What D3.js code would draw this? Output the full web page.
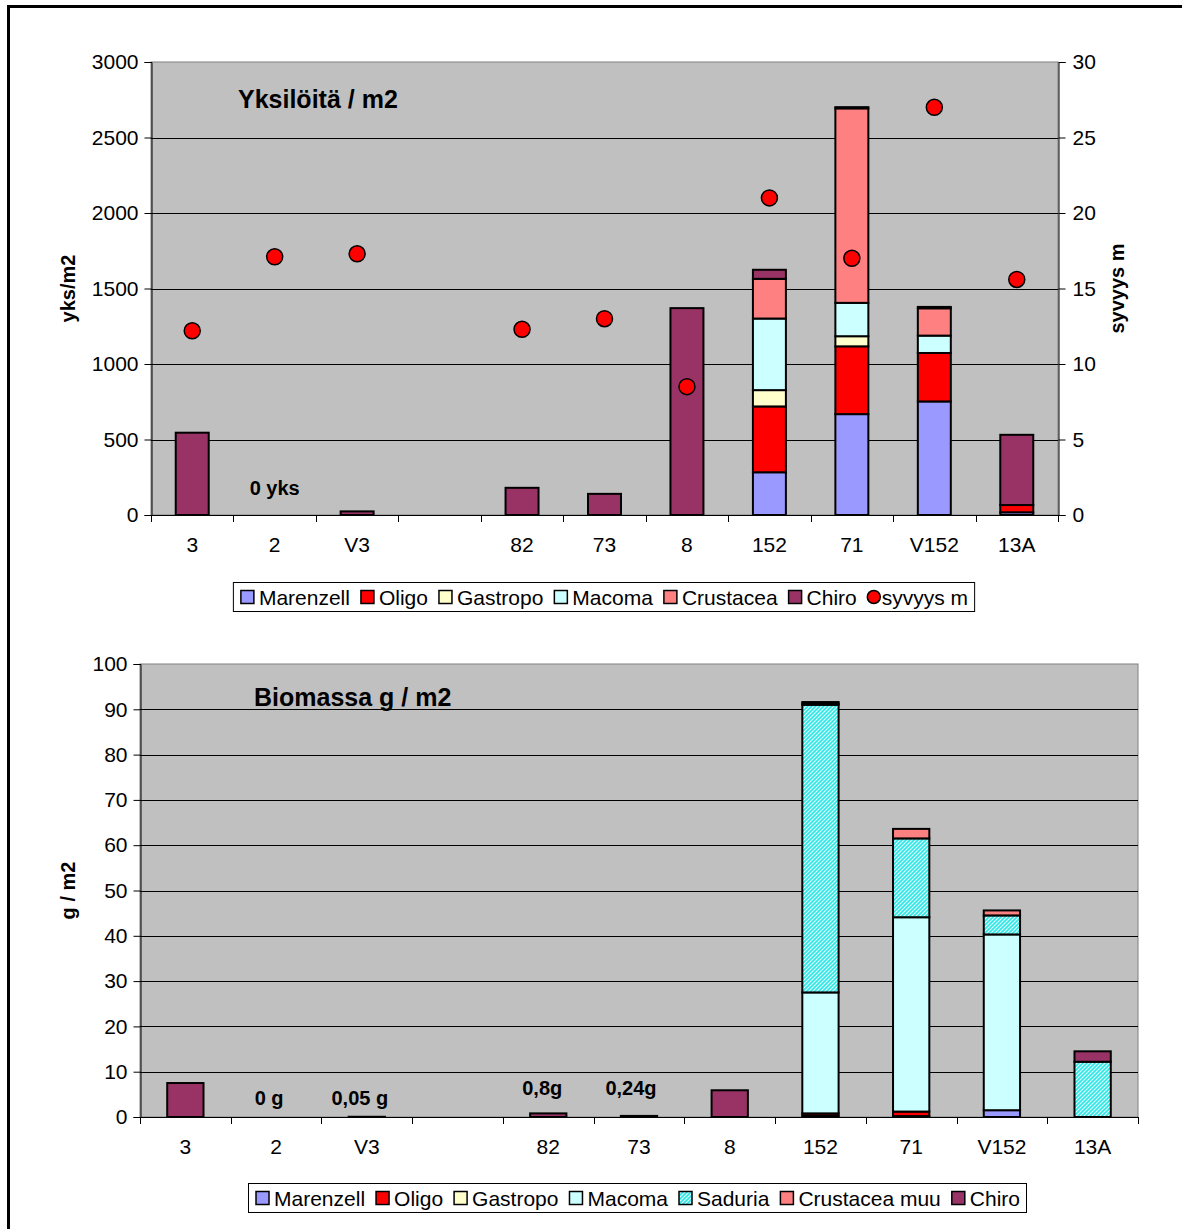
<!DOCTYPE html>
<html><head><meta charset="utf-8">
<script src="https://cdn.jsdelivr.net/npm/d3@7"></script>
<style>
body{margin:0;background:#fff;}
svg{display:block;font-family:"Liberation Sans",Arial,sans-serif;}
</style></head>
<body><svg id="c" width="1182" height="1229"></svg>
<script>
// ---- data ----
const categories = ["3","2","V3","","82","73","8","152","71","V152","13A"];

// top chart: individuals / m2
const marenzell = [0,0,0,0,0,0,0,283,668,752,18];
const oligo     = [0,0,0,0,0,0,0,436,449,321,48];
const gastropo  = [0,0,0,0,0,0,0,108,67,0,0];
const macoma    = [0,0,0,0,0,0,0,474,221,115,0];
const crustacea = [0,0,0,0,0,0,0,263,1288,181,0];
const chiro     = [545,0,24,0,180,140,1370,60,8,9,465];
const depth     = [12.2,17.1,17.3,null,12.3,13.0,8.5,21.0,17.0,27.0,15.6];
const topTicksLeft  = [0,500,1000,1500,2000,2500,3000];
const topTicksRight = [0,5,10,15,20,25,30];

// bottom chart: biomass g / m2
const bMarenzell = [0,0,0,0,0,0,0,0.3,0.2,1.5,0];
const bOligo     = [0,0,0,0,0,0,0,0.5,1.0,0,0];
const bGastropo  = [0,0,0,0,0,0,0,0,0,0,0];
const bMacoma    = [0,0,0,0,0,0,0,26.7,42.9,38.8,0];
const bSaduria   = [0,0,0,0,0,0,0,63.5,17.4,4.2,12.2];
const bCrustMuu  = [0,0,0,0,0,0,0,0.3,2.1,1.1,0];
const bChiro     = [7.5,0,0.05,0,0.8,0.24,5.9,0.3,0,0,2.3];
const bottomTicks = [0,10,20,30,40,50,60,70,80,90,100];

const topNotes = [{cat:1, text:"0 yks", dx:0, dy:-8}];
const bottomNotes = [{cat:1,text:"0 g",dx:-7,dy:0},{cat:2,text:"0,05 g",dx:-7,dy:0},{cat:4,text:"0,8g",dx:-6,dy:-10},{cat:5,text:"0,24g",dx:-8,dy:-10}];

// ---- drawing ----
const svg = d3.select("#c");
const defs = svg.append("defs");
const pat = defs.append("pattern").attr("id","sad").attr("patternUnits","userSpaceOnUse")
  .attr("width",4).attr("height",4);
pat.append("rect").attr("width",4).attr("height",4).attr("fill","#2EE6E6");
pat.append("path").attr("d","M-1,1 l2,-2 M0,4 l4,-4 M3,5 l2,-2").attr("stroke","#E8FFFF").attr("stroke-width",1.1);

const COL = {Marenzell:"#9999FF",Oligo:"#FF0000",Gastropo:"#FFFFCC",Macoma:"#CCFFFF",
  Crustacea:"#FF8080",Chiro:"#993366",Saduria:"url(#sad)"};

svg.append("rect").attr("x",8.5).attr("y",6.5).attr("width",1200).attr("height",1240)
  .attr("fill","none").attr("stroke","#000").attr("stroke-width",3);

function chart(opt){
  const {x0,x1,y0,y1,max,ticks,series,notes,title,titleX,titleY,yTitle} = opt;
  const g = svg.append("g");
  const idx = categories.map((d,i)=>i);
  const x = d3.scaleBand().domain(idx).range([x0,x1]).paddingInner(0.6).paddingOuter(0.3);
  const y = d3.scaleLinear().domain([0,max]).range([y1,y0]);
  g.append("rect").attr("x",x0).attr("y",y0).attr("width",x1-x0).attr("height",y1-y0)
    .attr("fill","#C0C0C0").attr("stroke","#808080").attr("stroke-width",1);
  // gridlines
  g.selectAll(".grid").data(ticks.filter(t=>t>0 && t<max)).join("line")
    .attr("x1",x0).attr("x2",x1).attr("y1",d=>Math.round(y(d))+0.5).attr("y2",d=>Math.round(y(d))+0.5)
    .attr("stroke","#000").attr("stroke-width",1);
  // left axis
  const la = g.append("g").attr("transform",`translate(${x0+0.5},0)`)
    .call(d3.axisLeft(y).tickValues(ticks).tickSize(7).tickPadding(6).tickFormat(d3.format("d")));
  la.select(".domain").attr("stroke","#000");
  la.selectAll("text").attr("font-size",21).attr("fill","#000").attr("font-family","Liberation Sans, Arial");
  // bottom axis
  const step = x.step();
  const bounds = d3.range(categories.length+1).map(i=>x0+i*step);
  g.append("line").attr("x1",x0).attr("x2",x1).attr("y1",y1+0.5).attr("y2",y1+0.5).attr("stroke","#000");
  g.selectAll(".xt").data(bounds).join("line").attr("x1",d=>Math.round(d)+0.5).attr("x2",d=>Math.round(d)+0.5)
    .attr("y1",y1).attr("y2",y1+7).attr("stroke","#000");
  g.selectAll(".xl").data(idx).join("text").attr("x",d=>x(d)+x.bandwidth()/2).attr("y",y1+37)
    .attr("text-anchor","middle").attr("font-size",21).text(d=>categories[d]);
  // stacked bars
  const keys = series.map(s=>s.name);
  const rows = idx.map(i=>{const r={i}; series.forEach(s=>r[s.name]=s.values[i]); return r;});
  const stack = d3.stack().keys(keys)(rows);
  stack.forEach((layer,k)=>{
    g.append("g").selectAll("rect").data(layer.filter(d=>d[1]-d[0]>0)).join("rect")
      .attr("x",d=>x(d.data.i)).attr("width",x.bandwidth())
      .attr("y",d=>y(d[1])).attr("height",d=>y(d[0])-y(d[1]))
      .attr("fill",COL[keys[k]]).attr("stroke","#000").attr("stroke-width",2);
  });
  // notes
  g.selectAll(".note").data(notes).join("text").attr("x",d=>x(d.cat)+x.bandwidth()/2+(d.dx||0))
    .attr("y",d=>y1-12+(d.dy||0)).attr("text-anchor","middle").attr("font-size",20).attr("font-weight","bold")
    .text(d=>d.text);
  g.append("text").attr("x",titleX).attr("y",titleY).attr("font-size",25).attr("font-weight","bold").text(title);
  g.append("text").attr("transform",`translate(75,${(y0+y1)/2}) rotate(-90)`).attr("text-anchor","middle")
    .attr("font-size",20).attr("font-weight","bold").text(yTitle);
  return {g,x,y};
}

function legend(cx, cy, items){
  const lg = svg.append("g");
  const box = lg.append("rect").attr("fill","#fff").attr("stroke","#000").attr("stroke-width",1);
  let cur = 0;
  items.forEach(it=>{
    const ig = lg.append("g").attr("transform",`translate(${cur},0)`);
    if(it.circle){
      ig.append("circle").attr("cx",6).attr("cy",0).attr("r",6.5).attr("fill","#FF0000").attr("stroke","#000").attr("stroke-width",1.5);
    } else {
      ig.append("rect").attr("x",0).attr("y",-6.5).attr("width",13).attr("height",13)
        .attr("fill",COL[it.key]).attr("stroke","#000").attr("stroke-width",1.5);
    }
    const t = ig.append("text").attr("x",it.circle?14:18).attr("y",7.5).attr("font-size",21).text(it.label);
    const w = (it.circle?14:18) + t.node().getComputedTextLength();
    cur += w + 11;
  });
  const total = cur - 11;
  const bx = cx - total/2 - 7;
  lg.attr("transform",`translate(${bx+7},${cy})`);
  box.attr("x",-7.5).attr("y",-14.5).attr("width",total+14).attr("height",29);
}

chart({x0:151,x1:1058,y0:62,y1:515,max:3000,ticks:topTicksLeft,
  series:[{name:"Marenzell",values:marenzell},{name:"Oligo",values:oligo},{name:"Gastropo",values:gastropo},
    {name:"Macoma",values:macoma},{name:"Crustacea",values:crustacea},{name:"Chiro",values:chiro}],
  notes:topNotes,title:"Yksilöitä / m2",titleX:238,titleY:108,yTitle:"yks/m2"});

// right axis (depth)
(function(){
  const yR = d3.scaleLinear().domain([0,30]).range([515,62]);
  const xs = d3.scaleBand().domain(categories.map((d,i)=>i)).range([151,1058]).paddingInner(0.6).paddingOuter(0.3);
  const ra = svg.append("g").attr("transform","translate(1058.5,0)")
    .call(d3.axisRight(yR).tickValues(topTicksRight).tickSize(7).tickPadding(7));
  ra.select(".domain").attr("stroke","#000");
  ra.selectAll("text").attr("font-size",21).attr("fill","#000").attr("font-family","Liberation Sans, Arial");
  svg.append("text").attr("transform",`translate(1124,${(62+515)/2}) rotate(-90)`).attr("text-anchor","middle")
    .attr("font-size",20).attr("font-weight","bold").text("syvyys m");
  svg.append("g").selectAll("circle").data(depth.map((d,i)=>({d,i})).filter(o=>o.d!=null)).join("circle")
    .attr("cx",o=>xs(o.i)+xs.bandwidth()/2).attr("cy",o=>yR(o.d)).attr("r",8)
    .attr("fill","#FF0000").attr("stroke","#000").attr("stroke-width",1.5);
})();

legend(604.5, 597, [{key:"Marenzell",label:"Marenzell"},{key:"Oligo",label:"Oligo"},{key:"Gastropo",label:"Gastropo"},
  {key:"Macoma",label:"Macoma"},{key:"Crustacea",label:"Crustacea"},{key:"Chiro",label:"Chiro"},{circle:true,label:"syvyys m"}]);

chart({x0:140,x1:1138,y0:664,y1:1117,max:100,ticks:bottomTicks,
  series:[{name:"Marenzell",values:bMarenzell},{name:"Oligo",values:bOligo},{name:"Gastropo",values:bGastropo},
    {name:"Macoma",values:bMacoma},{name:"Saduria",values:bSaduria},{name:"Crustacea",values:bCrustMuu},{name:"Chiro",values:bChiro}],
  notes:bottomNotes,title:"Biomassa g / m2",titleX:254,titleY:706,yTitle:"g / m2"});

legend(638, 1198, [{key:"Marenzell",label:"Marenzell"},{key:"Oligo",label:"Oligo"},{key:"Gastropo",label:"Gastropo"},
  {key:"Macoma",label:"Macoma"},{key:"Saduria",label:"Saduria"},{key:"Crustacea",label:"Crustacea muu"},{key:"Chiro",label:"Chiro"}]);
</script></body></html>
